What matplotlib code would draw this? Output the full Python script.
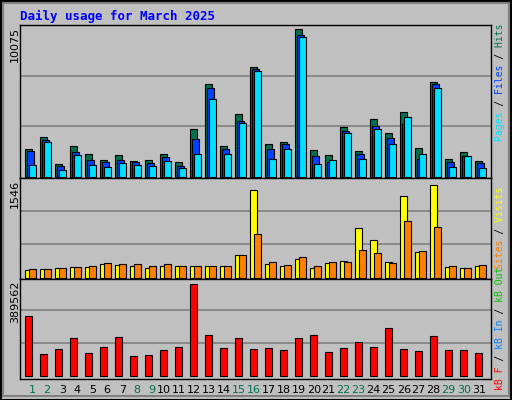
import matplotlib
matplotlib.use("Agg")
import matplotlib.pyplot as plt
from matplotlib.patches import Rectangle
import numpy as np

days = [str(d) for d in range(1, 32)]
weekend = [1, 2, 8, 9, 15, 16, 22, 23, 29, 30]
hits = [1824, 2647, 845, 2046, 1490, 1090, 1446, 1023, 1090, 1490, 956, 3158, 6160, 2046, 4159, 7317,
        2180, 2313, 9830, 1757, 1446, 3292, 1690, 3848, 2891, 4292, 1890, 6294, 1156, 1623, 1023]
files = [1690, 2424, 689, 1623, 1090, 956, 1090, 956, 890, 1290, 689, 2491, 5894, 1824, 3692, 7161,
         1824, 2157, 9452, 1357, 956, 3025, 1490, 3358, 2558, 3492, 1156, 6160, 956, 1350, 890]
pages = [756, 2291, 423, 1423, 756, 623, 890, 756, 689, 1023, 556, 1490, 5160, 1490, 3558, 7028,
         1156, 1824, 9296, 823, 1090, 2891, 1156, 3158, 2157, 3959, 1490, 5894, 623, 1357, 556]
visits = [115, 130, 146, 161, 161, 208, 193, 177, 146, 177, 177, 177, 177, 177, 349, 1364,
          208, 177, 286, 146, 224, 255, 770, 583, 239, 1270, 396, 1442, 161, 146, 177]
sites = [130, 130, 146, 161, 177, 224, 208, 208, 177, 208, 177, 177, 177, 177, 349, 677,
         239, 193, 318, 177, 239, 239, 427, 380, 224, 880, 411, 786, 177, 146, 193]
kbytes = [235850, 84800, 104675, 148400, 88775, 112625, 152375, 76850, 80825, 100700, 112625, 363050,
          160325, 108650, 148400, 104675, 108650, 100700, 148400, 160325, 92750, 108650, 132500,
          112625, 188150, 104675, 96725, 156350, 100700, 100700, 88775]
max_hits, max_visits, max_kb = 10075, 1546, 389562

W, H = 512, 400
fig = plt.figure(figsize=(W/100, H/100), dpi=100)
fig.patch.set_facecolor("#C0C0C0")
fig.patches.append(Rectangle((0.5/W, 0.5/H), 1-1.5/W, 1-1.5/H, transform=fig.transFigure,
                             fill=False, ec="black", lw=1.5))
fig.patches.append(Rectangle((2.5/W, 4/H), 1-6/W, 1-7/H, transform=fig.transFigure,
                             fill=False, ec="#808080", lw=1.5))

def ax_at(top, bottom):
    return fig.add_axes([20/W, 1-bottom/H, 471/W, (bottom-top)/H])

x = np.arange(31)
bw = 0.48
mono = "DejaVu Sans Mono"

def style(ax, ylim, grid):
    ax.set_facecolor("#C0C0C0")
    ax.set_xlim(0, 31.4)
    ax.set_ylim(*ylim)
    for g in grid:
        ax.axhline(g, color="#808080", lw=1.2, zorder=0)
    ax.set_xticks([]); ax.set_yticks([])
    for s in ax.spines.values():
        s.set_color("black"); s.set_linewidth(1)

a1 = ax_at(25, 178)
style(a1, (-100, 10120), [max_hits/3, 2*max_hits/3])
a1.bar(x+0.35, hits, bw, align="edge", color="#007050", ec="black", lw=0.8)
a1.bar(x+0.48, files, bw, align="edge", color="#0040FF", ec="black", lw=0.8)
a1.bar(x+0.61, pages, bw, align="edge", color="#00E0FF", ec="black", lw=0.8)

a2 = ax_at(178, 279)
style(a2, (-23, 1552), [max_visits/3, 2*max_visits/3])
a2.bar(x+0.35, visits, bw, align="edge", color="#FFFF00", ec="black", lw=0.8)
a2.bar(x+0.61, sites, bw, align="edge", color="#FF8000", ec="black", lw=0.8)

a3 = ax_at(279, 379)
style(a3, (-13100, 384000), [max_kb/3, 2*max_kb/3])
a3.bar(x+0.35, kbytes, bw, align="edge", color="#FF0000", ec="black", lw=0.8)
for i, d in enumerate(days):
    a3.text(i+1.05, -0.06, d, transform=a3.get_xaxis_transform(), ha="right", va="top",
            fontsize=8, color="#007050" if int(d) in weekend else "black")

fig.text(20/W, 1-16/H, "Daily usage for March 2025", color="#0000FF", fontsize=9,
         fontweight="bold", family=mono, va="center")
for txt, ytop in [(str(max_hits), 27), (str(max_visits), 180), (str(max_kb), 281)]:
    fig.text(15/W, 1-ytop/H, txt, rotation=90, ha="center", va="top", fontsize=8, family="DejaVu Sans")

def legend(parts, ycenter):
    full = "".join(p for p, _ in parts)
    pos = 0
    for p, c in parts:
        s = " "*pos + p + " "*(len(full)-pos-len(p))
        fig.text(500/W, 1-ycenter/H, s, rotation=90, ha="center", va="center",
                 fontsize=7, family=mono, color=c)
        pos += len(p)

legend([("Pages", "#00E0FF"), (" / ", "black"), ("Files", "#0040FF"), (" / ", "black"), ("Hits", "#007050")], 82)
legend([("Sites", "#FF8000"), (" / ", "black"), ("Visits", "#FFFF00")], 228)
legend([("kB F", "#FF0000"), (" / ", "black"), ("kB In", "#0080FF"), (" / ", "black"), ("kB Out", "#00C000")], 328)

fig.savefig("out.png", dpi=100, facecolor=fig.get_facecolor())
